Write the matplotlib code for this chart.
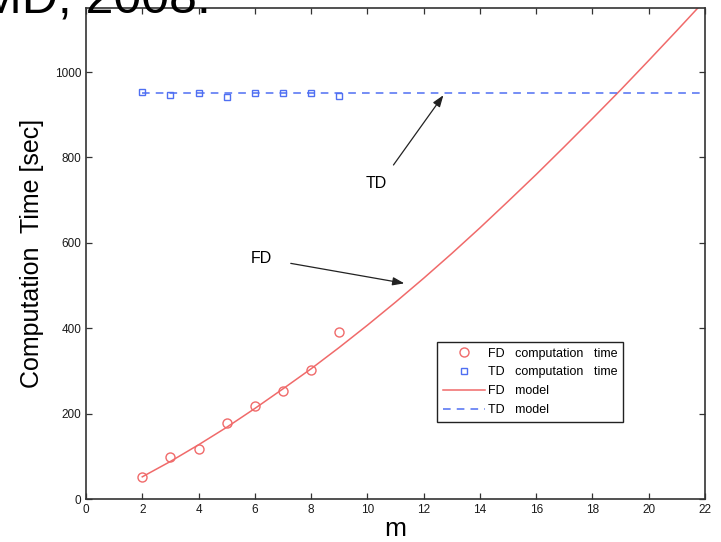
import numpy as np
import matplotlib.pyplot as plt

plt.rcParams['font.family'] = ['Liberation Sans', 'DejaVu Sans']

# measured run times
m_meas = [2, 3, 4, 5, 6, 7, 8, 9]
fd_time = [52, 99, 117, 179, 218, 254, 302, 392]
td_time = [954, 946, 951, 942, 952, 952, 951, 943]

# fitted models
m_model = [2, 3, 4, 5, 6, 7, 8, 9, 10, 11, 12, 13, 14, 15, 16, 17, 18, 19, 20, 21, 22]
fd_model = [52, 88, 127, 168, 212, 258, 305, 355, 407, 461, 517, 575, 635, 697,
            760, 825, 891, 958, 1027, 1097, 1168]
td_model = [950] * len(m_model)

x_ticks = [0, 2, 4, 6, 8, 10, 12, 14, 16, 18, 20, 22]
y_ticks = [0, 200, 400, 600, 800, 1000]

red = '#f06a6a'
blue = '#4f6ff2'

fig = plt.figure(figsize=(7.21, 5.42), dpi=100)
ax = fig.add_axes([0.1193, 0.0793, 0.8585, 0.906])

ax.plot(m_meas, fd_time, 'o', mfc='none', mec=red, ms=6.5, mew=1.0,
        label='FD   computation   time')
ax.plot(m_meas, td_time, 's', mfc='none', mec=blue, ms=5, mew=1.0,
        label='TD   computation   time')
ax.plot(m_model, fd_model, '-', color=red, lw=1.1, label='FD   model')
ax.plot(m_model, td_model, '--', color=blue, lw=1.1, dashes=(5, 4),
        label='TD   model')

ax.set_xlim(0, 22)
ax.set_ylim(0, 1150)
ax.set_xticks(x_ticks)
ax.set_yticks(y_ticks)
ax.tick_params(direction='in', length=4, width=0.9, labelsize=8.5,
               top=True, right=True, colors='#333333', labelcolor='#1a1a1a')
for s in ax.spines.values():
    s.set_linewidth(1.2)
    s.set_color('#333333')

ax.set_xlabel('m', fontsize=19, labelpad=1)
ax.set_ylabel('Computation  Time [sec]', fontsize=18, labelpad=8)

# arrows pointing at the two curves
ax.text(10.3, 740, 'TD', fontsize=11.5, ha='center', va='center')
ax.annotate('', xy=(12.76, 951), xytext=(10.87, 777),
            arrowprops=dict(arrowstyle='-|>,head_length=0.7,head_width=0.25',
                            color='#222222', lw=0.9))
ax.text(6.25, 564, 'FD', fontsize=11.5, ha='center', va='center')
ax.annotate('', xy=(11.41, 504), xytext=(7.18, 553),
            arrowprops=dict(arrowstyle='-|>,head_length=0.7,head_width=0.25',
                            color='#222222', lw=0.9))

leg = ax.legend(loc='upper left', bbox_to_anchor=(0.567, 0.320), fontsize=9,
                handlelength=3.4, handletextpad=0.25, borderpad=0.45,
                borderaxespad=0, labelspacing=0.55, fancybox=False,
                framealpha=1, edgecolor='#222222', numpoints=1)
leg.get_frame().set_linewidth(1.0)

# slide heading cut by the page edge
fig.text(-0.028, 0.976, 'MD, 2008.', fontsize=36, ha='left', va='baseline')

fig.savefig('out.png', dpi=100)
